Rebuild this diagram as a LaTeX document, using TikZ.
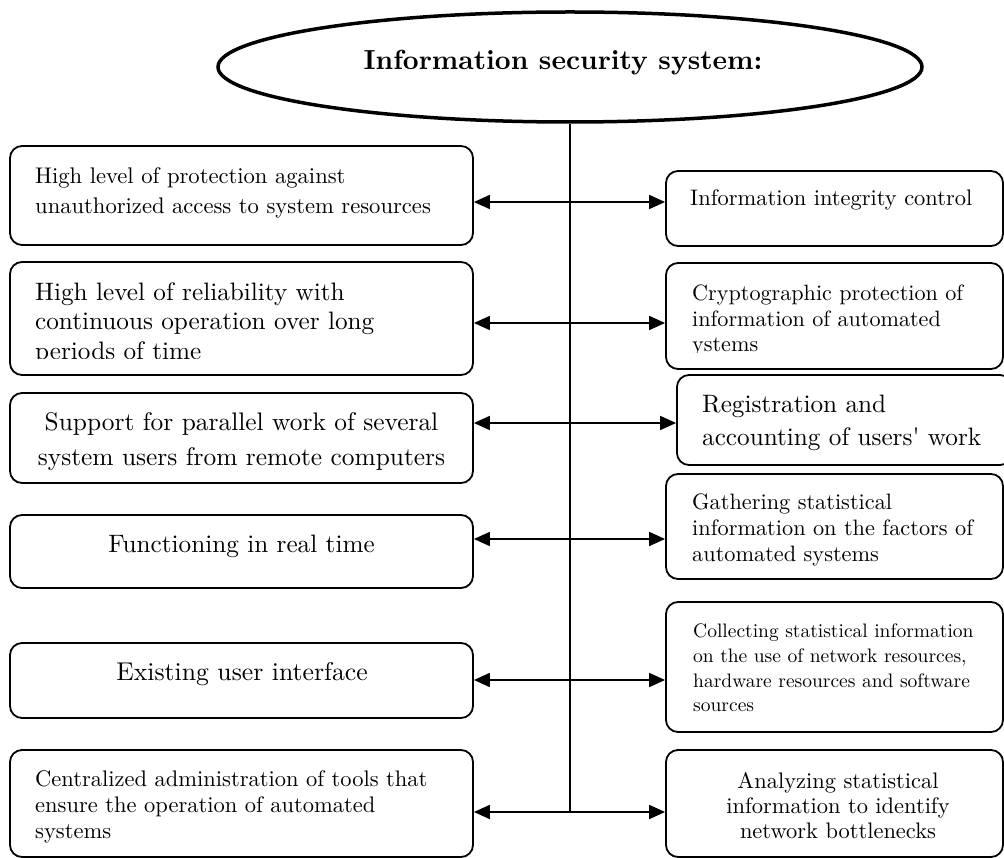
\documentclass[tikz,border=0pt]{standalone}
\usepackage{fontspec}
\setmainfont{lmroman10-regular.otf}[BoldFont=lmroman10-bold.otf, ItalicFont=lmroman10-italic.otf, BoldItalicFont=lmroman10-bolditalic.otf]
\usetikzlibrary{arrows.meta,shapes.geometric}
\newcommand\myfs[2]{\fontsize{#1}{#2}\selectfont}
\begin{document}
\begin{tikzpicture}[x=1pt,y=-1pt,
  box/.style={draw, line width=1.8pt, rounded corners=12pt, rectangle, inner sep=0pt},
  txt/.style={inner sep=0pt, align=left, anchor=north west},
  ctxt/.style={inner sep=0pt, align=center, anchor=north},
  link/.style={line width=1.8pt, {Triangle[length=16pt,width=14pt]}-{Triangle[length=16pt,width=14pt]}},
  spine/.style={line width=1.8pt}]
\useasboundingbox (0,0) rectangle (1004,858);
\fill[white] (0,0) rectangle (1004,858);

% central ellipse
\node[ellipse, draw, line width=3.5pt, minimum width=704pt, minimum height=110pt, inner sep=0pt] (E) at (570,67) {};
\node[anchor=base, inner sep=0pt, font=\bfseries\myfs{27.6}{33}] (title) at (563,70) {Information security system:};

% left boxes
\node[box, minimum width=463pt, minimum height=99pt] (L1) at (241.5,195.5) {};
\node[box, minimum width=463pt, minimum height=113pt] (L2) at (241.5,318.5) {};
\node[box, minimum width=463pt, minimum height=90pt] (L3) at (241.5,438) {};
\node[box, minimum width=463pt, minimum height=73pt] (L4) at (241.5,551.5) {};
\node[box, minimum width=463pt, minimum height=75pt] (L5) at (241.5,680.5) {};
\node[box, minimum width=463pt, minimum height=107pt] (L6) at (241.5,803.5) {};

% right boxes
\node[box, minimum width=337pt, minimum height=75pt] (R1) at (834.5,208.5) {};
\node[box, minimum width=337pt, minimum height=106pt] (R2) at (834.5,316) {};
\node[box, minimum width=335pt, minimum height=90pt] (R3) at (844.5,420) {};
\node[box, minimum width=337pt, minimum height=105pt] (R4) at (834.5,526.5) {};
\node[box, minimum width=337pt, minimum height=130pt] (R5) at (834.5,667) {};
\node[box, minimum width=337pt, minimum height=107pt] (R6) at (834.5,803.5) {};

% texts left
\node[txt, font=\myfs{22.6}{29.5}] (t1) at (35,167.5) {High level of protection against\\unauthorized access to system resources};
\begin{scope}
\clip (11,263) rectangle (472,358.5);
\node[txt, font=\myfs{25.2}{29.5}] (t2) at (35,282.4) {High level of reliability with\\continuous operation over long\\periods of time};
\end{scope}
\node[ctxt, font=\myfs{25.4}{35}] (t3) at (241.5,412.3) {Support for parallel work of several\\system users from remote computers};
\node[ctxt, font=\myfs{25.2}{30}] (t4) at (241.5,534.4) {Functioning in real time};
\node[ctxt, font=\myfs{25.7}{30}] (t5) at (242,662.2) {Existing user interface};
\node[txt, font=\myfs{22.5}{26}] (t6) at (35,770.5) {Centralized administration of tools that\\ensure the operation of automated\\systems};

% texts right
\node[txt, font=\myfs{22.45}{27}] (r1) at (690,189.6) {Information integrity control};
\begin{scope}
\clip (667,264) rectangle (1002,352.5);
\node[txt, font=\myfs{22.15}{25.5}] (r2) at (692,284.7) {Cryptographic protection of\\information of automated\\ystems};
\end{scope}
\node[txt, font=\myfs{25.2}{33}] (r3) at (702,394.4) {Registration and\\accounting of users\textquotesingle{} work};
\node[txt, font=\myfs{22.3}{26}] (r4) at (692,493.6) {Gathering statistical\\information on the factors of\\automated systems};
\node[txt, font=\myfs{19.5}{24.7}] (r5) at (693,623.8) {Collecting statistical information\\on the use of network resources,\\hardware resources and software\\sources};
\node[ctxt, font=\myfs{22.45}{25}] (r6) at (838,772.6) {Analyzing statistical\\information to identify\\network bottlenecks};

% junctions on the spine
\coordinate (j1) at (570,202);
\coordinate (j2) at (570,323);
\coordinate (j3) at (570,423);
\coordinate (j4) at (570,539);
\coordinate (j5) at (570,680);
\coordinate (j6) at (570,812);

\draw[spine] (E.south) -- (j6);
\draw[link] (j1 -| L1.east) -- (j1 -| R1.west);
\draw[link] (j2 -| L2.east) -- (j2 -| R2.west);
\draw[link] (j3 -| L3.east) -- (j3 -| R3.west);
\draw[link] (j4 -| L4.east) -- (j4 -| R4.west);
\draw[link] (j5 -| L5.east) -- (j5 -| R5.west);
\draw[link] (j6 -| L6.east) -- (j6 -| R6.west);
\end{tikzpicture}
\end{document}
